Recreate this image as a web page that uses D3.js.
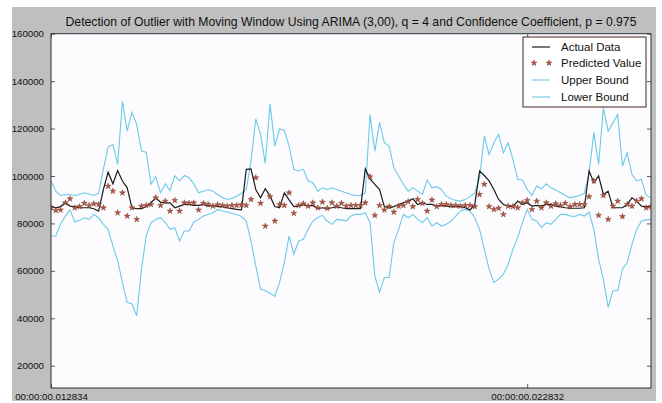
<!DOCTYPE html>
<html>
<head>
<meta charset="utf-8">
<script src="https://cdn.jsdelivr.net/npm/d3@7"></script>
<style>
  html, body { margin: 0; padding: 0; background: #ffffff; }
  svg { display: block; }
  text { font-family: "Liberation Sans", Arial, Helvetica, sans-serif; fill: #111; }
</style>
</head>
<body>
<svg id="chart" width="662" height="403"></svg>
<script>
// ---------------- DATA ----------------
const titleText = "Detection of Outlier with Moving Window Using ARIMA (3,00), q = 4 and Confidence Coefficient, p = 0.975";
const xTickIndex = [0, 100];
const xTickLabels = ["00:00:00.012834", "00:00:00.022832"];
const yTicks = [20000, 40000, 60000, 80000, 100000, 120000, 140000, 160000];
const seriesNames = ["Actual Data", "Predicted Value", "Upper Bound", "Lower Bound"];

const actual = [
  87300, 86600, 87100, 88700, 87300, 87100, 86600, 86600, 86600, 86200,
  85200, 94300, 101600, 96700, 102300, 97900, 95000, 86600, 86200, 86200,
  87100, 88700, 90800, 89000, 88700, 88700, 86600, 87300, 88000, 88000,
  87600, 87600, 88000, 87300, 87600, 87100, 87100, 86600, 86200, 85900,
  85700, 102800, 103000, 94300, 90800, 94600, 91500, 87100, 86600, 92900,
  89900, 87100, 87300, 88000, 87300, 87600, 86200, 86600, 86200, 86600,
  87100, 86600, 86200, 86200, 86200, 86200, 103000, 98800, 96500, 94300,
  87100, 86600, 87100, 88000, 88700, 89400, 90400, 88000, 88700, 88000,
  88000, 87300, 87600, 87300, 87100, 87100, 87100, 86600, 85700, 88000,
  102100, 100200, 97900, 94300, 90100, 88000, 87300, 87100, 89400, 88000,
  88700, 87300, 87600, 87300, 88000, 88000, 87300, 87100, 86600, 86400,
  86400, 86400, 86600, 102100, 97200, 100000, 92200, 93600, 86600, 86600,
  86600, 88000, 90800, 89400, 87300, 87100, 87100
];

const predicted = [
  86600, 85500, 85700, 88700, 90400, 86600, 87100, 88500, 87600, 88300,
  88000, 86600, 95700, 93600, 84500, 92900, 83100, 86600, 81700, 87300,
  87600, 88000, 90800, 87600, 89400, 85200, 89700, 85200, 88700, 88500,
  88700, 85700, 88500, 88000, 87300, 87900, 87600, 87300, 87600, 87600,
  87900, 87600, 90100, 99300, 88500, 78900, 91300, 81000, 88000, 87600,
  92900, 84300, 87600, 88300, 87300, 88700, 86600, 89000, 86400, 88700,
  87300, 88500, 87300, 87600, 87600, 87600, 88700, 99700, 83400, 87600,
  85700, 87100, 84800, 87300, 87600, 89200, 87100, 90100, 88500, 85200,
  89900, 87100, 88000, 88000, 87600, 87600, 87300, 87600, 87600, 87100,
  92200, 96500, 87100, 85900, 86400, 83800, 87300, 87100, 86600, 88700,
  89700, 85900, 89400, 86600, 88700, 87300, 88300, 87600, 88500, 87100,
  88000, 88000, 88000, 91300, 97900, 83400, 91800, 81700, 87300, 89400,
  82900, 88000, 87300, 89400, 90400, 86600, 87100
];

const upper = [
  97900, 93600, 91800, 92200, 92100, 91800, 92200, 92900, 92400, 91800,
  92700, 102800, 112300, 113300, 104900, 131500, 118900, 126900, 121700, 110500,
  110000, 96500, 99700, 92900, 96700, 93900, 100200, 97900, 100200, 99300,
  96700, 92900, 93600, 94300, 93600, 92200, 90800, 90100, 90600, 91500,
  92700, 94300, 106300, 124100, 117500, 105300, 130500, 112600, 119800, 119300,
  112600, 102800, 102100, 102800, 97900, 97200, 93600, 95000, 94300, 95000,
  94300, 93600, 92900, 92200, 91800, 91800, 92900, 125900, 110500, 122600,
  114000, 112600, 103500, 100000, 96500, 93600, 95000, 93600, 92200, 98300,
  95000, 95500, 94300, 91500, 90400, 89700, 89400, 90100, 91300, 92900,
  99300, 116800, 109100, 114000, 117500, 109800, 114000, 107000, 98600, 98300,
  94300, 91800, 95800, 94600, 96700, 95000, 94100, 92900, 91800, 90800,
  91300, 91800, 92700, 101300, 118400, 104900, 128700, 118900, 122400, 125900,
  104200, 109800, 100600, 97900, 98600, 91800, 90800
];

const lower = [
  74700, 74700, 79600, 83100, 85700, 80600, 81300, 82400, 81700, 83800,
  82400, 79600, 77500, 70500, 64200, 55100, 46700, 46000, 41100, 60700,
  74700, 80300, 81700, 82400, 80300, 77500, 78200, 72600, 76800, 76800,
  80600, 81700, 83100, 83800, 84500, 85900, 85200, 84800, 84300, 83800,
  82900, 81000, 72600, 62100, 52300, 51600, 50600, 49200, 55100, 63500,
  74700, 67000, 72600, 73300, 77500, 81000, 82400, 83400, 81000, 79600,
  81700, 81500, 81000, 83100, 83800, 83800, 84500, 80300, 57900, 50900,
  57200, 57200, 71900, 77500, 83800, 82400, 83800, 81700, 80300, 82400,
  78900, 80300, 78900, 79600, 81000, 83100, 85200, 85900, 85200, 82400,
  77500, 69100, 60700, 55100, 56500, 58600, 62800, 69100, 74000, 80300,
  85900, 81700, 81000, 78200, 80300, 79600, 81700, 83800, 83800, 83100,
  82900, 83800, 83100, 84800, 77500, 64900, 56500, 44600, 51600, 51600,
  60700, 63500, 71200, 77500, 81000, 81500, 81700
];

// ---------------- LAYOUT ----------------
const W = 662, H = 403;
const plot = { left: 51, right: 651, top: 33.7, bottom: 388 };
const colors = { actual: "#1e1a1a", pred: "#b65540", predEdge: "#6a2a1e", bound: "#6cc9e8" };

const svg = d3.select("#chart");

// figure background
svg.append("rect").attr("x", 0).attr("y", 0).attr("width", W).attr("height", H).attr("fill", "#ffffff");
svg.append("rect").attr("x", 12).attr("y", 7).attr("width", 644).attr("height", 394).attr("fill", "#bfbfbf");

// plot area
svg.append("rect")
  .attr("x", plot.left).attr("y", plot.top)
  .attr("width", plot.right - plot.left).attr("height", plot.bottom - plot.top)
  .attr("fill", "#fcfcfe");

const x = d3.scaleLinear().domain([0, actual.length - 1]).range([plot.left, plot.right]);
const y = d3.scaleLinear().domain([10600, 160000]).range([plot.bottom, plot.top]);

svg.append("defs").append("clipPath").attr("id", "clip")
  .append("rect").attr("x", plot.left).attr("y", plot.top)
  .attr("width", plot.right - plot.left).attr("height", plot.bottom - plot.top);

const g = svg.append("g").attr("clip-path", "url(#clip)");

const line = d3.line().x((d, i) => x(i)).y(d => y(d));

g.append("path").datum(upper).attr("d", line)
  .attr("fill", "none").attr("stroke", colors.bound).attr("stroke-width", 1.1);
g.append("path").datum(lower).attr("d", line)
  .attr("fill", "none").attr("stroke", colors.bound).attr("stroke-width", 1.1);
g.append("path").datum(actual).attr("d", line)
  .attr("fill", "none").attr("stroke", colors.actual).attr("stroke-width", 1.2);

const star = d3.symbol().type(d3.symbolStar).size(11);
g.selectAll(".pred").data(predicted).join("path")
  .attr("class", "pred")
  .attr("d", star)
  .attr("transform", (d, i) => `translate(${x(i)},${y(d)})`)
  .attr("fill", colors.pred).attr("stroke", colors.predEdge).attr("stroke-width", 0.4);

// axes (ticks pointing inward, matplotlib classic style)
const axisStyle = sel => {
  sel.select(".domain").remove();
  sel.selectAll(".tick line").attr("stroke", "#333").attr("stroke-width", 0.8);
  sel.selectAll(".tick text").attr("font-family", "Liberation Sans, Arial, sans-serif")
    .attr("font-size", "9.7px").attr("fill", "#111");
};

svg.append("g").attr("transform", `translate(${plot.left},0)`)
  .call(d3.axisLeft(y).tickValues(yTicks).tickSize(-4).tickPadding(7).tickFormat(d3.format("d")))
  .call(axisStyle);
svg.append("g").attr("transform", `translate(${plot.right},0)`)
  .call(d3.axisRight(y).tickValues(yTicks).tickSize(-4).tickFormat(""))
  .call(axisStyle);
svg.append("g").attr("transform", `translate(0,${plot.bottom})`)
  .call(d3.axisBottom(x).tickValues(xTickIndex).tickSize(-4).tickPadding(5)
    .tickFormat((d, i) => xTickLabels[i]))
  .call(axisStyle);
svg.append("g").attr("transform", `translate(0,${plot.top})`)
  .call(d3.axisTop(x).tickValues(xTickIndex).tickSize(-4).tickFormat(""))
  .call(axisStyle);

// frame
svg.append("rect")
  .attr("x", plot.left).attr("y", plot.top)
  .attr("width", plot.right - plot.left).attr("height", plot.bottom - plot.top)
  .attr("fill", "none").attr("stroke", "#2b3238").attr("stroke-width", 1);

// title
svg.append("text")
  .attr("x", (plot.left + plot.right) / 2).attr("y", 26)
  .attr("text-anchor", "middle").attr("font-size", "12.2px")
  .text(titleText);

// legend
const lg = svg.append("g").attr("transform", "translate(523,37)");
lg.append("rect").attr("width", 123).attr("height", 70)
  .attr("fill", "#ffffff").attr("stroke", "#4a2219").attr("stroke-width", 1);
const rowY = [10, 26, 43, 60];
seriesNames.forEach((name, k) => {
  const row = lg.append("g").attr("transform", `translate(0,${rowY[k]})`);
  if (k === 1) {
    [11, 26].forEach(cx => row.append("path").attr("d", star)
      .attr("transform", `translate(${cx},0)`)
      .attr("fill", colors.pred).attr("stroke", colors.predEdge).attr("stroke-width", 0.4));
  } else {
    row.append("line").attr("x1", 9).attr("x2", 27).attr("y1", 0).attr("y2", 0)
      .attr("stroke", k === 0 ? colors.actual : colors.bound).attr("stroke-width", k === 0 ? 1.2 : 1.1);
  }
  row.append("text").attr("x", 38).attr("y", 4).attr("font-size", "11.5px").text(name);
});
</script>
</body>
</html>
